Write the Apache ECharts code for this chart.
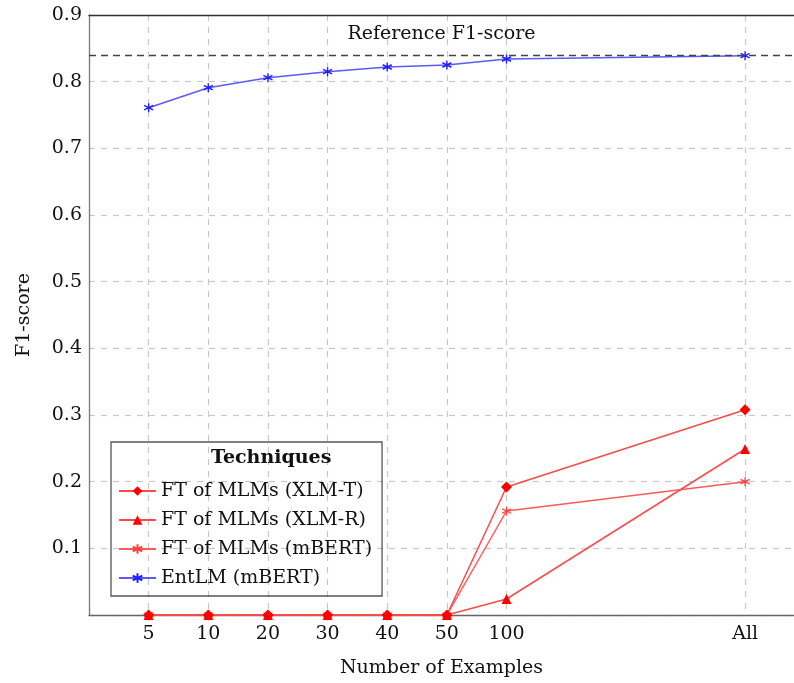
<!DOCTYPE html>
<html>
<head>
<meta charset="utf-8">
<script src="https://cdn.jsdelivr.net/npm/echarts@6/dist/echarts.min.js"></script>
<style>
    html, body { margin: 0; padding: 0; background: #fff; }
    #chart { width: 794px; height: 683px; }
</style>
</head>
<body>
<div id="chart"></div>
<script>
// tick labels on the x axis and the slot each one sits in (All is set apart)
var xLabels = ['5', '10', '20', '30', '40', '50', '100', 'All'];
var xSlots = [0, 1, 2, 3, 4, 5, 6, 10];

var xlmT = [0, 0, 0, 0, 0, 0, 0.192, 0.308];
var xlmR = [0, 0, 0, 0, 0, 0, 0.024, 0.249];
var mbert = [0, 0, 0, 0, 0, 0, 0.156, 0.200];
var entlm = [0.761, 0.791, 0.806, 0.815, 0.822, 0.825, 0.834, 0.839];

var refScore = 0.836;

var FONT = 'DejaVu Serif';
var FS = 19;
var STAR = 'path://M0,-10L0,10M-8.66,-5L8.66,5M-8.66,5L8.66,-5';

function pairs(values) {
    var out = [];
    for (var i = 0; i < values.length; i++) {
        out.push([xSlots[i], values[i]]);
    }
    return out;
}

var chart = echarts.init(document.getElementById('chart'));

var option = {
    animation: false,
    textStyle: { fontFamily: FONT },
    grid: {
        left: 89,
        right: 0,
        top: 15,
        bottom: 66
    },
    legend: {
        orient: 'vertical',
        left: 111,
        top: 442,
        padding: [39, 10, 8, 7],
        borderColor: '#555',
        borderWidth: 1.3,
        itemWidth: 37,
        itemHeight: 12,
        itemGap: 9,
        textStyle: {
            fontFamily: FONT,
            fontSize: FS,
            lineHeight: 20,
            color: '#111'
        },
        data: ['FT of MLMs (XLM-T)', 'FT of MLMs (XLM-R)', 'FT of MLMs (mBERT)', 'EntLM (mBERT)']
    },
    graphic: [{
        type: 'text',
        left: 211,
        top: 449,
        z: 100,
        style: {
            text: 'Techniques',
            font: 'bold ' + FS + 'px ' + FONT,
            fill: '#111'
        }
    }],
    xAxis: [{
        type: 'value',
        min: -1,
        max: 10.82,
        name: 'Number of Examples',
        nameLocation: 'middle',
        nameGap: 44,
        nameTextStyle: { fontFamily: FONT, fontSize: FS, color: '#111' },
        axisLine: { show: true, onZero: false, lineStyle: { color: '#666', width: 1.3 } },
        axisTick: { show: false, customValues: xSlots },
        axisLabel: {
            customValues: xSlots,
            margin: 10,
            fontFamily: FONT,
            fontSize: FS,
            color: '#111',
            formatter: function (v) {
                var i = xSlots.indexOf(v);
                return i < 0 ? '' : xLabels[i];
            }
        },
        splitLine: {
            show: true,
            lineStyle: { color: '#c8c8c8', type: [6, 6], width: 1.2 }
        }
    }, {
        type: 'value',
        position: 'top',
        min: -1,
        max: 10.82,
        axisLine: { show: true, onZero: false, lineStyle: { color: '#333', width: 1.3 } },
        axisTick: { show: false },
        axisLabel: { show: false },
        splitLine: { show: false }
    }],
    yAxis: {
        type: 'value',
        min: 0,
        max: 0.9,
        interval: 0.1,
        name: 'F1-score',
        nameLocation: 'middle',
        nameGap: 55,
        nameTextStyle: { fontFamily: FONT, fontSize: FS, color: '#111' },
        axisLine: { show: true, onZero: false, lineStyle: { color: '#777', width: 1.3 } },
        axisTick: { show: false },
        axisLabel: {
            margin: 7,
            fontFamily: FONT,
            fontSize: FS,
            color: '#111',
            formatter: function (v) {
                return v === 0 ? '' : v.toFixed(1);
            }
        },
        splitLine: {
            show: true,
            lineStyle: { color: '#c8c8c8', type: [6, 6], width: 1.2 }
        }
    },
    series: [
        {
            name: 'EntLM (mBERT)',
            type: 'line',
            data: pairs(entlm),
            symbol: STAR,
            symbolSize: 9,
            color: '#2020ff',
            itemStyle: { color: '#2020ff', borderColor: '#2020ff', borderWidth: 1.4 },
            lineStyle: { color: '#5a5aff', width: 1.5 },
            markLine: {
                silent: true,
                symbol: 'none',
                lineStyle: { color: '#444', type: [7, 5], width: 1.3 },
                label: {
                    show: true,
                    position: 'middle',
                    distance: 11,
                    formatter: 'Reference F1-score',
                    fontFamily: FONT,
                    fontSize: FS,
                    color: '#111'
                },
                data: [{ yAxis: refScore }]
            }
        },
        {
            name: 'FT of MLMs (mBERT)',
            type: 'line',
            data: pairs(mbert),
            symbol: STAR,
            symbolSize: 9,
            color: '#ff5050',
            itemStyle: { color: '#ff4040', borderColor: '#ff4040', borderWidth: 1.3 },
            lineStyle: { color: '#ff5a5a', width: 1.5 }
        },
        {
            name: 'FT of MLMs (XLM-R)',
            type: 'line',
            data: pairs(xlmR),
            symbol: 'triangle',
            symbolSize: 10,
            color: '#ff0000',
            itemStyle: { color: '#ff0000' },
            lineStyle: { color: '#ff4a4a', width: 1.5 }
        },
        {
            name: 'FT of MLMs (XLM-T)',
            type: 'line',
            data: pairs(xlmT),
            symbol: 'diamond',
            symbolSize: 11,
            color: '#ff0000',
            itemStyle: { color: '#ff0000' },
            lineStyle: { color: '#ff4a4a', width: 1.5 }
        }
    ]
};

chart.setOption(option);
</script>
</body>
</html>
